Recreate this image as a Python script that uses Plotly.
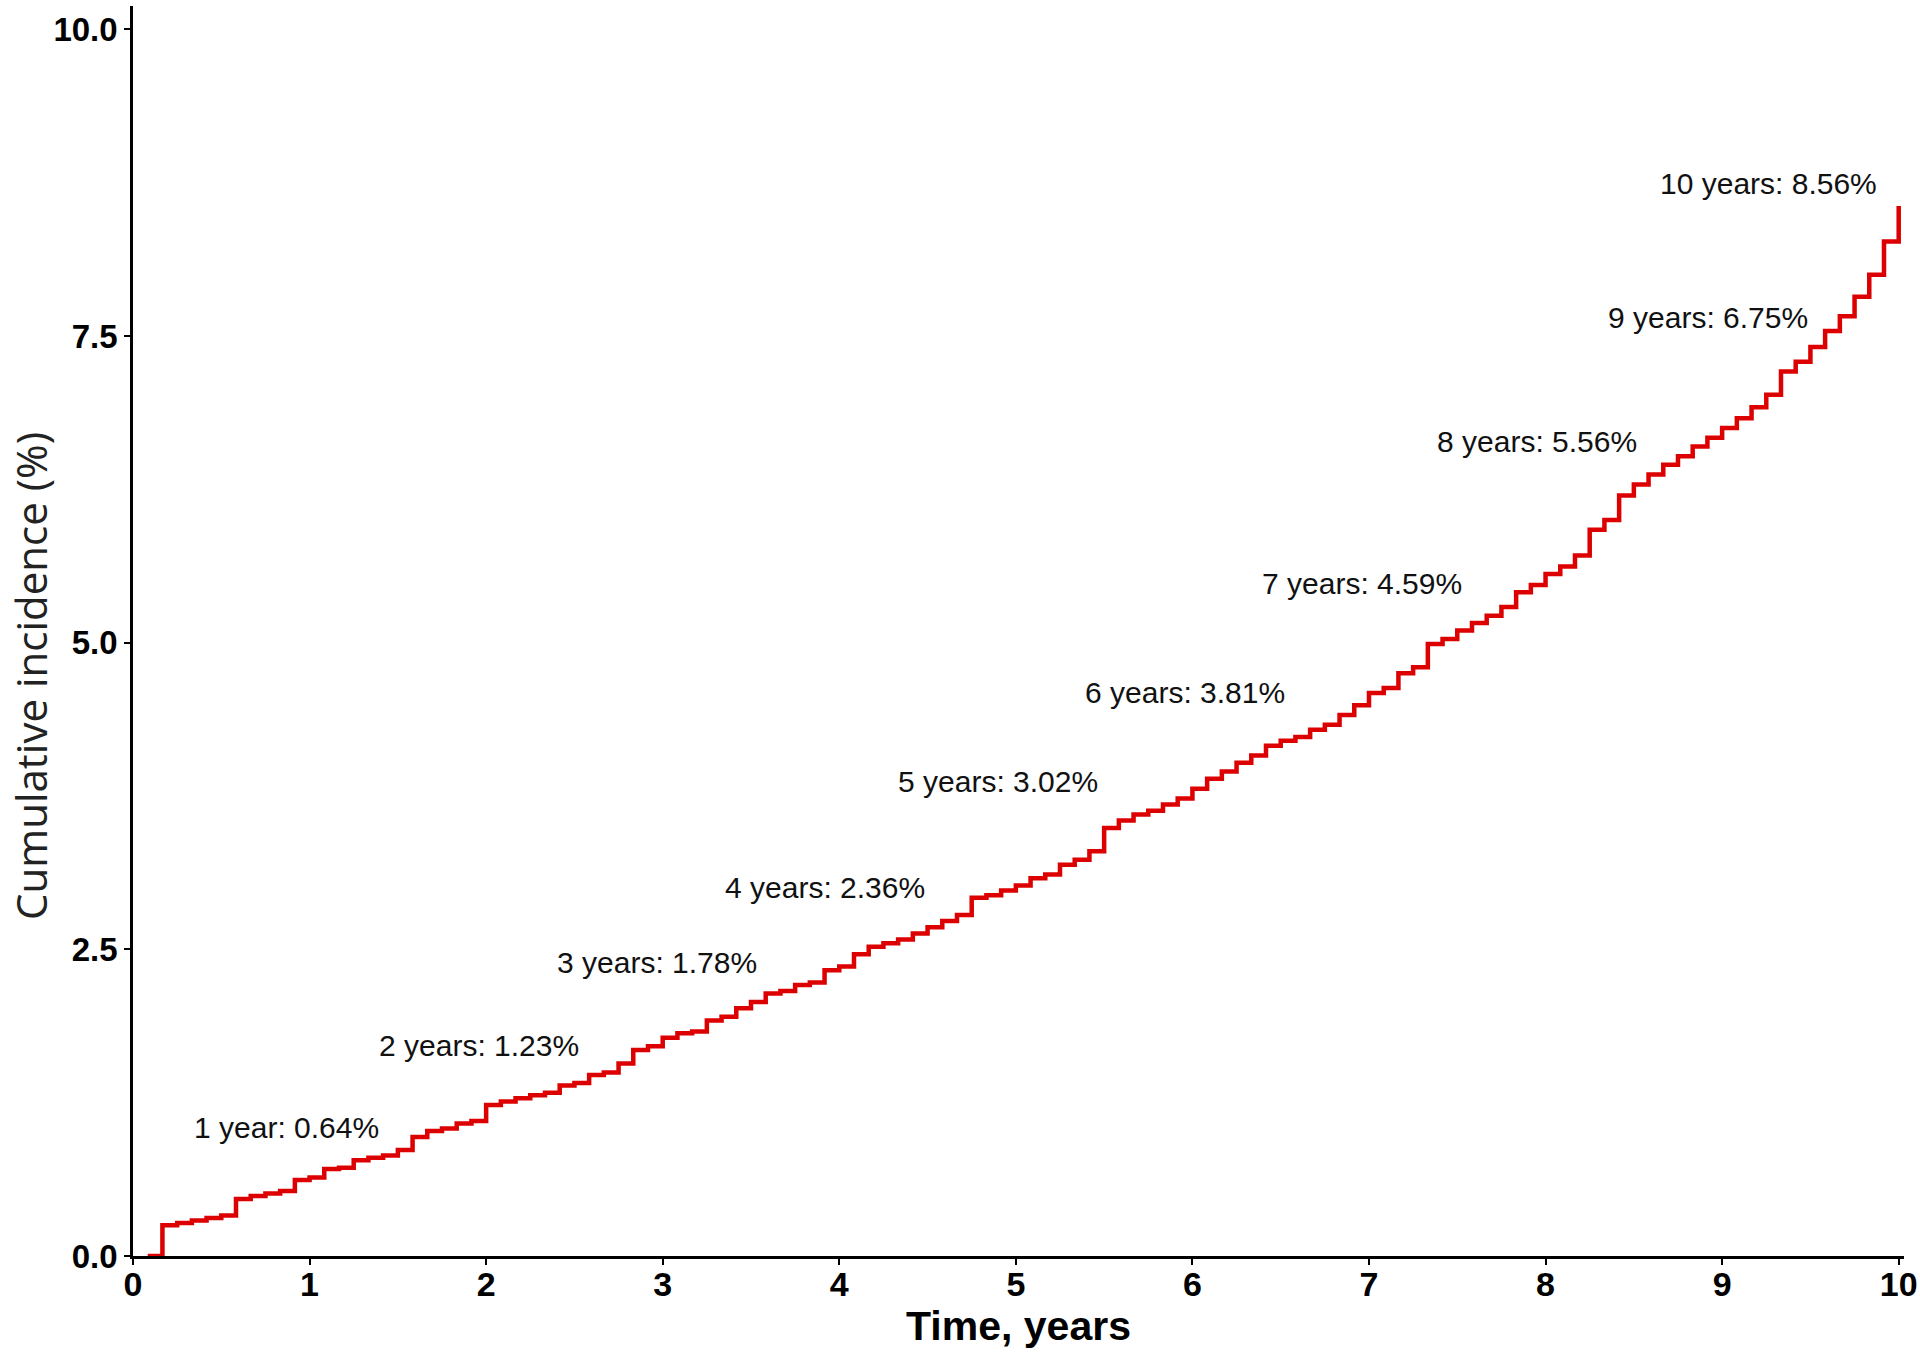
import plotly.graph_objects as go

# ---- data ----
event_month = [
    1, 2, 3, 4, 5, 6, 7, 8, 9, 10, 11, 12,
    13, 14, 15, 16, 17, 18, 19, 20, 21, 22, 23, 24,
    25, 26, 27, 28, 29, 30, 31, 32, 33, 34, 35, 36,
    37, 38, 39, 40, 41, 42, 43, 44, 45, 46, 47, 48,
    49, 50, 51, 52, 53, 54, 55, 56, 57, 58, 59, 60,
    61, 62, 63, 64, 65, 66, 67, 68, 69, 70, 71, 72,
    73, 74, 75, 76, 77, 78, 79, 80, 81, 82, 83, 84,
    85, 86, 87, 88, 89, 90, 91, 92, 93, 94, 95, 96,
    97, 98, 99, 100, 101, 102, 103, 104, 105, 106, 107, 108,
    109, 110, 111, 112, 113, 114, 115, 116, 117, 118, 119, 120,
]
cum_incidence = [
    0.00, 0.25, 0.27, 0.29, 0.31, 0.33, 0.465, 0.49, 0.51, 0.53, 0.62, 0.64,
    0.71, 0.72, 0.78, 0.80, 0.82, 0.865, 0.97, 1.02, 1.04, 1.08, 1.10, 1.23,
    1.26, 1.285, 1.31, 1.33, 1.39, 1.41, 1.475, 1.495, 1.57, 1.68, 1.71, 1.78,
    1.815, 1.83, 1.92, 1.95, 2.02, 2.07, 2.14, 2.16, 2.21, 2.23, 2.33, 2.36,
    2.46, 2.52, 2.55, 2.58, 2.63, 2.68, 2.73, 2.78, 2.92, 2.94, 2.98, 3.02,
    3.08, 3.11, 3.19, 3.23, 3.30, 3.49, 3.55, 3.60, 3.63, 3.68, 3.73, 3.81,
    3.89, 3.95, 4.02, 4.08, 4.16, 4.20, 4.23, 4.29, 4.33, 4.41, 4.49, 4.59,
    4.63, 4.75, 4.80, 4.99, 5.03, 5.10, 5.16, 5.22, 5.29, 5.41, 5.47, 5.56,
    5.62, 5.71, 5.92, 6.00, 6.20, 6.29, 6.37, 6.45, 6.52, 6.60, 6.67, 6.75,
    6.83, 6.92, 7.02, 7.21, 7.29, 7.41, 7.54, 7.66, 7.82, 8.00, 8.27, 8.56,
]
label_years = [1, 2, 3, 4, 5, 6, 7, 8, 9, 10]
label_values = [0.64, 1.23, 1.78, 2.36, 3.02, 3.81, 4.59, 5.56, 6.75, 8.56]
x_ticks = [0, 1, 2, 3, 4, 5, 6, 7, 8, 9, 10]
y_ticks = [0.0, 2.5, 5.0, 7.5, 10.0]
y_tick_text = ["0.0", "2.5", "5.0", "7.5", "10.0"]

# ---- layout constants (label placement in data units) ----
label_pos = [
    (0.87, 1.05), (1.96, 1.72), (2.97, 2.39), (3.92, 3.00), (4.90, 3.87),
    (5.96, 4.59), (6.96, 5.48), (7.95, 6.64), (8.92, 7.65), (9.26, 8.74),
]

time_years = [m / 12 for m in event_month]

fig = go.Figure()
fig.add_trace(go.Scatter(
    x=time_years, y=cum_incidence, mode="lines",
    line=dict(shape="hv", color="#DD0000", width=4.5),
    showlegend=False, hoverinfo="x+y",
))

for yr, val, (px, py) in zip(label_years, label_values, label_pos):
    txt = f"{yr} year: {val:.2f}%" if yr == 1 else f"{yr} years: {val:.2f}%"
    fig.add_annotation(
        x=px, y=py, text=txt, showarrow=False,
        xanchor="center", yanchor="middle",
        font=dict(family="Liberation Sans, Arial, sans-serif", size=30, color="#111111"),
    )

# y-axis title (placed slightly below the plot centre, as in the reference)
fig.add_annotation(
    xref="paper", yref="paper", x=-0.0582, y=0.464,
    text="Cumulative incidence (%)", textangle=-90, showarrow=False,
    xanchor="center", yanchor="middle",
    font=dict(family="Open Sans, Liberation Sans, sans-serif", size=42, color="#222222"),
)

fig.update_layout(
    width=1920, height=1352,
    margin=dict(l=133, r=16, t=6, b=96),
    paper_bgcolor="white", plot_bgcolor="white",
    font=dict(family="Liberation Sans, Arial, sans-serif", color="black"),
    xaxis=dict(
        range=[0, 10.03], tickvals=x_ticks, ticktext=[str(t) for t in x_ticks],
        showgrid=False, zeroline=False, automargin=False,
        showline=True, linecolor="black", linewidth=2.5,
        ticks="outside", ticklen=6, tickwidth=2, tickcolor="black",
        ticklabelstandoff=-10,
        tickfont=dict(size=34, color="black", weight="bold"),
        title=dict(text="Time, years", standoff=0,
                   font=dict(size=41, color="black", weight="bold")),
    ),
    yaxis=dict(
        range=[0, 10.19], tickvals=y_ticks, ticktext=y_tick_text,
        showgrid=False, zeroline=False, automargin=False,
        showline=True, linecolor="black", linewidth=2.5,
        ticks="outside", ticklen=6, tickwidth=2, tickcolor="black",
        tickfont=dict(size=33, color="black", weight="bold"),
    ),
)

# remove the page's default body margin so the figure fills the window exactly
fig.write_html(
    "out.html",
    config={"displayModeBar": False},
    post_script="document.body.style.margin='0';document.body.style.overflow='hidden';",
)
